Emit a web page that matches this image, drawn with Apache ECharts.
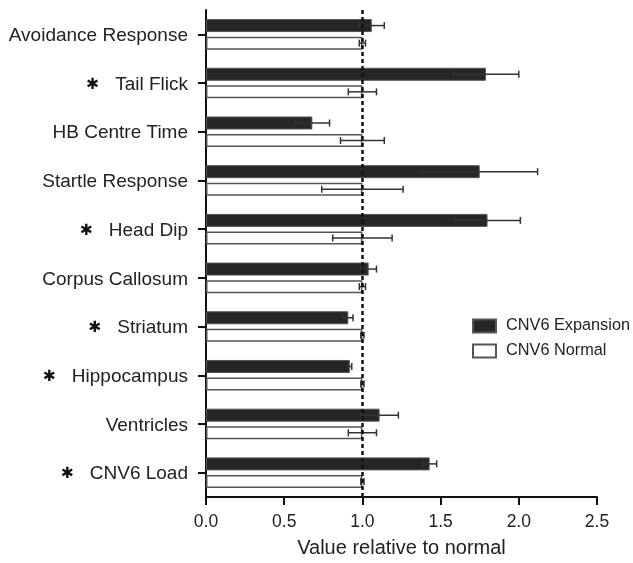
<!DOCTYPE html>
<html>
<head>
<meta charset="utf-8">
<script src="https://cdn.jsdelivr.net/npm/echarts@6/dist/echarts.min.js"></script>
<style>html,body{margin:0;padding:0;background:#fff;}#c{width:633px;height:563px;}</style>
</head>
<body>
<div id="c"></div>
<script>
const categories = ['Avoidance Response','Tail Flick','HB Centre Time','Startle Response','Head Dip','Corpus Callosum','Striatum','Hippocampus','Ventricles','CNV6 Load'];
const significant = [false,true,false,false,true,false,true,true,false,true];
const expansion = [1.06, 1.79, 0.68, 1.75, 1.80, 1.04, 0.91, 0.92, 1.11, 1.43];
const expansionErr = [0.08, 0.21, 0.11, 0.37, 0.21, 0.05, 0.03, 0.012, 0.12, 0.045];
const normal = [1, 1, 1, 1, 1, 1, 1, 1, 1, 1];
const normalErr = [0.02, 0.09, 0.14, 0.26, 0.19, 0.02, 0.01, 0.01, 0.09, 0.01];
const xTicks = [0, 0.5, 1.0, 1.5, 2.0, 2.5];

const BAR_W = 13, GAP = 0.35;
const OFF = (BAR_W * (2 + GAP)) / 2 - BAR_W / 2;

function errSeries(vals, errs, offset) {
  return {
    type: 'custom',
    z: 5,
    silent: true,
    data: vals.map((v, i) => [v, i, errs[i]]),
    encode: { x: 0, y: 1 },
    renderItem: function (params, api) {
      const v = api.value(0), i = api.value(1), e = api.value(2);
      const lo = api.coord([v - e, i]);
      const hi = api.coord([v + e, i]);
      const y = lo[1] + offset;
      const h = 3.5;
      const st = { stroke: '#333', lineWidth: 1.5 };
      return {
        type: 'group',
        children: [
          { type: 'line', shape: { x1: lo[0], y1: y, x2: hi[0], y2: y }, style: st },
          { type: 'line', shape: { x1: lo[0], y1: y - h, x2: lo[0], y2: y + h }, style: st },
          { type: 'line', shape: { x1: hi[0], y1: y - h, x2: hi[0], y2: y + h }, style: st }
        ]
      };
    }
  };
}

const chart = echarts.init(document.getElementById('c'));
chart.setOption({
  animation: false,
  backgroundColor: '#fff',
  textStyle: { fontFamily: 'Liberation Sans, Arial, sans-serif' },
  grid: { left: 206, right: 36, top: 10, bottom: 65, containLabel: false },
  legend: {
    data: ['CNV6 Expansion', 'CNV6 Normal'],
    orient: 'vertical',
    left: 467, top: 313,
    itemWidth: 23, itemHeight: 13, itemGap: 9,
    icon: 'rect',
    textStyle: { fontSize: 16.3, color: '#222', padding: [0, 0, 0, 5] }
  },
  xAxis: {
    type: 'value', min: 0, max: 2.5, interval: 0.5,
    name: 'Value relative to normal', nameLocation: 'middle', nameGap: 41,
    nameTextStyle: { fontSize: 20, color: '#222' },
    axisLine: { show: true, lineStyle: { color: '#111', width: 2 } },
    axisTick: { show: true, length: 8, lineStyle: { color: '#111', width: 2 } },
    axisLabel: { fontSize: 17.5, color: '#222', margin: 16, formatter: v => v.toFixed(1) },
    splitLine: { show: false }
  },
  yAxis: {
    type: 'category', data: categories, inverse: true,
    axisLine: { show: true, lineStyle: { color: '#111', width: 2 } },
    axisTick: { show: true, alignWithLabel: true, length: 8, lineStyle: { color: '#111', width: 2 } },
    axisLabel: {
      fontSize: 19, color: '#222', margin: 18,
      formatter: function (val, idx) {
        return significant[idx] ? '{s|✱}   {n|' + val + '}' : '{n|' + val + '}';
      },
      rich: {
        s: { fontSize: 15.5, color: '#111', fontFamily: 'DejaVu Sans', padding: [3, 0, 0, 0] },
        n: { fontSize: 19, color: '#222', fontFamily: 'Liberation Sans, Arial, sans-serif', padding: [3, 0, 0, 0] }
      }
    }
  },
  series: [
    {
      name: 'CNV6 Expansion', type: 'bar', data: expansion,
      barWidth: BAR_W, barGap: (GAP * 100) + '%',
      itemStyle: { color: '#262626', borderColor: '#555', borderWidth: 1 }
    },
    {
      name: 'CNV6 Normal', type: 'bar', data: normal,
      barWidth: BAR_W, barGap: (GAP * 100) + '%',
      itemStyle: { color: '#fff', borderColor: '#555', borderWidth: 1.5 },
      markLine: {
        silent: true, symbol: 'none', z: 6,
        label: { show: false },
        lineStyle: { color: '#111', type: [4, 3], width: 2.5 },
        data: [{ xAxis: 1 }]
      }
    },
    errSeries(expansion, expansionErr, -OFF),
    errSeries(normal, normalErr, OFF)
  ]
});
</script>
</body>
</html>
